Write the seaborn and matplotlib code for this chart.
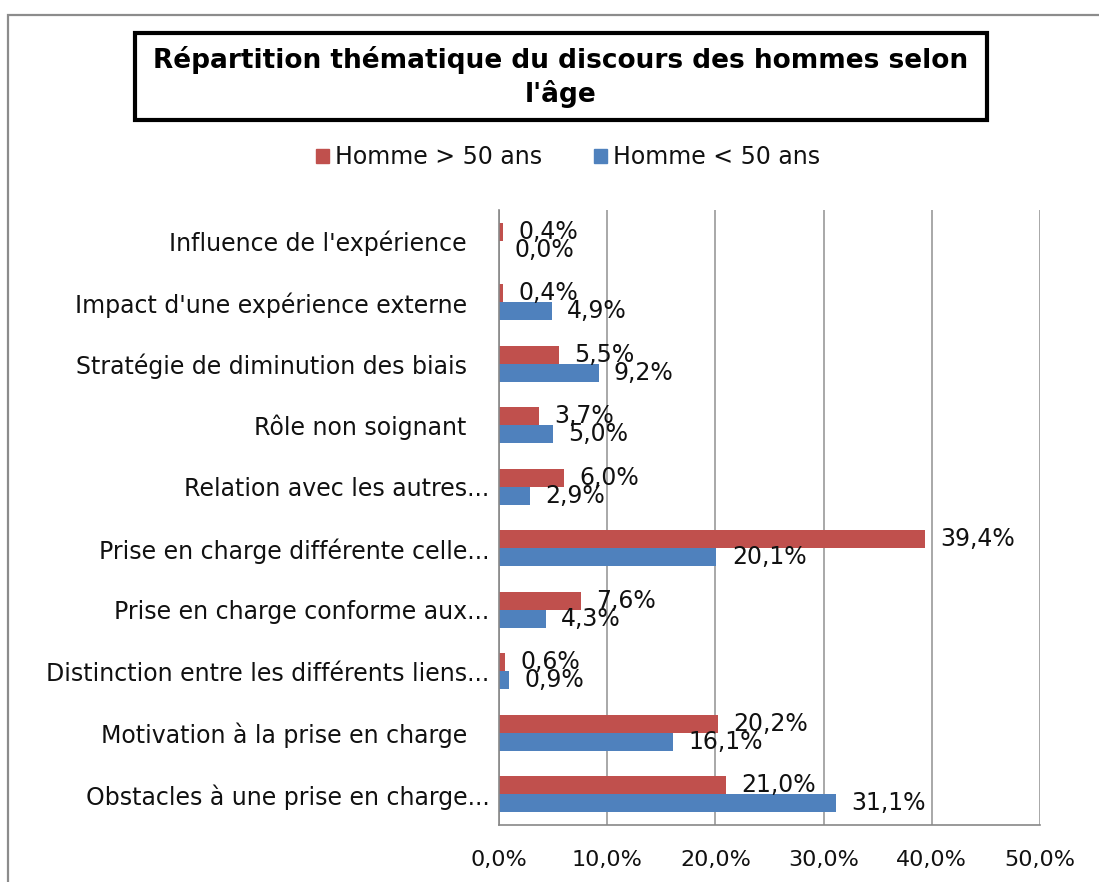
import pandas as pd
import seaborn as sns
import matplotlib.pyplot as plt
from matplotlib.patches import Rectangle

categories = [
    "Influence de l'expérience",
    "Impact d'une expérience externe",
    "Stratégie de diminution des biais",
    "Rôle non soignant",
    "Relation avec les autres...",
    "Prise en charge différente celle...",
    "Prise en charge conforme aux...",
    "Distinction entre les différents liens...",
    "Motivation à la prise en charge",
    "Obstacles à une prise en charge...",
]
over_50 = [0.4, 0.4, 5.5, 3.7, 6.0, 39.4, 7.6, 0.6, 20.2, 21.0]
under_50 = [0.0, 4.9, 9.2, 5.0, 2.9, 20.1, 4.3, 0.9, 16.1, 31.1]
series = ["Homme > 50 ans", "Homme < 50 ans"]
colors = ["#C0504D", "#4F81BD"]
xticks = [0, 10, 20, 30, 40, 50]

df = pd.DataFrame({
    "cat": categories * 2,
    "val": over_50 + under_50,
    "grp": [series[0]] * len(categories) + [series[1]] * len(categories),
})

sns.set_style("white")
plt.rcParams["font.family"] = ["DejaVu Sans"]
plt.rcParams["text.color"] = "#111111"
plt.rcParams["xtick.color"] = "#888888"
plt.rcParams["xtick.labelcolor"] = "#111111"
plt.rcParams["ytick.labelcolor"] = "#111111"

fig = plt.figure(figsize=(10.99, 8.82), dpi=100)
ax = fig.add_axes([499 / 1099, 1 - 825 / 882, (1040 - 499) / 1099, (825 - 210) / 882])

sns.barplot(data=df, x="val", y="cat", hue="grp", hue_order=series,
            palette=colors, orient="h", width=0.58, dodge=True,
            saturation=1, linewidth=0, ax=ax, legend=False)

for cont, vals in zip(ax.containers, [over_50, under_50]):
    ax.bar_label(cont, labels=[f"{v:.1f}%".replace(".", ",") for v in vals],
                 padding=11, fontsize=17, color="#111111")

ax.set_xlim(0, 50)
ax.set_ylim(len(categories) - 0.5, -0.5)
ax.set_xticks(xticks)
ax.set_xticklabels([f"{t:.1f}%".replace(".", ",") for t in xticks], fontsize=16)
ax.set_yticks(range(len(categories)))
ax.set_yticklabels([c if c.endswith("...") else c + "   " for c in categories],
                   fontsize=17)
ax.set_xlabel("")
ax.set_ylabel("")
ax.tick_params(axis="y", which="major", length=0, pad=7)
ax.set_yticks([i - 0.5 for i in range(len(categories) + 1)], minor=True)
ax.tick_params(axis="y", which="minor", length=7, color="#888888", width=1.2)
ax.tick_params(axis="x", which="major", length=7, color="#888888", width=1.2, pad=11)
ax.grid(axis="x", color="#999999", linewidth=1.2)
ax.set_axisbelow(True)
for s in ["top", "right"]:
    ax.spines[s].set_visible(False)
for s in ["left", "bottom"]:
    ax.spines[s].set_color("#888888")
    ax.spines[s].set_linewidth(1.2)

# outer chart border
fig.patches.append(Rectangle((8 / 1099, -0.2), 1.3, 1.2 - 15 / 882,
                             transform=fig.transFigure, fill=False,
                             edgecolor="#8c8c8c", linewidth=1.6))

# title box
fig.patches.append(Rectangle((135 / 1099, 1 - 120 / 882), (987 - 135) / 1099, 87 / 882,
                             transform=fig.transFigure, fill=False,
                             edgecolor="black", linewidth=3))
fig.text(561 / 1099, 1 - 77 / 882,
         "Répartition thématique du discours des hommes selon\nl'âge",
         ha="center", va="center", fontsize=19, fontweight="bold",
         linespacing=1.25, color="black")

handles = [Rectangle((0, 0), 1, 1, color=c) for c in colors]
fig.legend(handles, series, loc="center", bbox_to_anchor=(568 / 1099, 1 - 157 / 882),
           ncol=2, frameon=False, fontsize=17, handlelength=0.55, handleheight=0.55,
           handletextpad=0.25, columnspacing=2.2)

fig.savefig("out.png", dpi=100)
